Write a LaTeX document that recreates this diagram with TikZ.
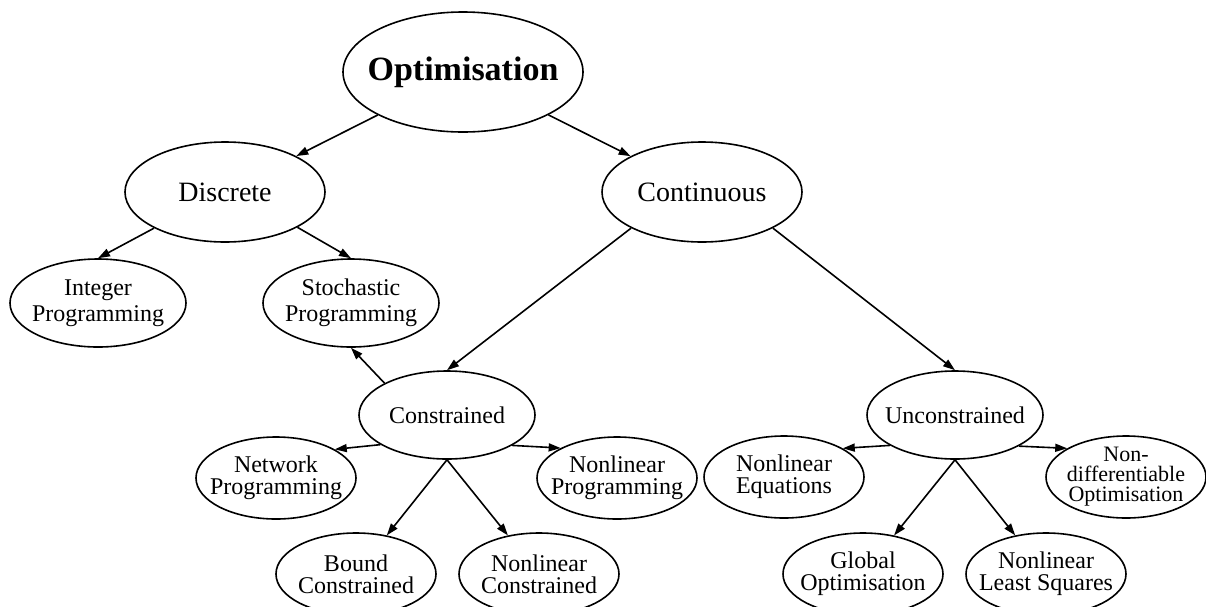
\documentclass[tikz,border=0pt]{standalone}
\usepackage{fontspec}
\setmainfont{Liberation Serif}
\usetikzlibrary{shapes.geometric, arrows.meta}

\begin{document}
\begin{tikzpicture}[
    x=0.5pt, y=-0.5pt,
    topic/.style={ellipse, draw=black, thick, inner sep=-20pt, align=center, font=\fontsize{12}{13}\selectfont},
    root/.style={topic, minimum width=120pt, minimum height=60pt, font=\fontsize{17}{20}\selectfont\bfseries},
    branch/.style={topic, minimum width=100pt, minimum height=50pt, font=\fontsize{14}{16}\selectfont},
    method/.style={topic, minimum width=88pt, minimum height=44pt},
    leaf/.style={topic, minimum width=80pt, minimum height=41pt, font=\fontsize{12}{11.2}\selectfont},
    arrow/.style={-{Triangle[length=6pt,width=4pt]}, thick}
]
\useasboundingbox (0,0) rectangle (1206,606);
\node (opt) [root] at (463,72) {Optimisation};
\node (disc) [branch] at (225,192) {Discrete};
\node (cont) [branch] at (702,192) {Continuous};
\node (integ) [method] at (98,303) {Integer\\Programming};
\node (stoch) [method] at (351,303) {Stochastic\\Programming};
\node (constr) [method] at (447,415) {Constrained};
\node (unc) [method] at (955,415) {Unconstrained};
\node (netw) [leaf] at (276,478) {Network\\Programming};
\node (nlp) [leaf] at (617,478) {Nonlinear\\Programming};
\node (nleq) [leaf] at (784,477) {Nonlinear\\Equations};
\node (nondiff) [leaf, font=\fontsize{11}{10}\selectfont] at (1126,477) {Non-\\differentiable\\Optimisation};
\node (bound) [leaf] at (356,574) {Bound\\Constrained};
\node (nlc) [leaf] at (539,574) {Nonlinear\\Constrained};
\node (glob) [leaf] at (863,574) {Global\\Optimisation};
\node (nlls) [leaf] at (1046,574) {Nonlinear\\Least Squares};
\draw [arrow] (opt) -- (disc);
\draw [arrow] (opt) -- (cont);
\draw [arrow] (disc.207) -- (integ.north);
\draw [arrow] (disc.-26) -- (stoch.north);
\draw [arrow] (cont.207) -- (constr.north);
\draw [arrow] (cont.-27) -- (unc.north);
\draw [arrow] (constr.153) -- (stoch.south);
\draw [arrow] (constr.204) -- (netw.26);
\draw [arrow] (constr.335) -- (nlp.152);
\draw [arrow] (constr.south) -- (bound);
\draw [arrow] (constr.south) -- (nlc);
\draw [arrow] (unc.205) -- (nleq.26);
\draw [arrow] (unc.334) -- (nondiff.154);
\draw [arrow] (unc.south) -- (glob);
\draw [arrow] (unc.south) -- (nlls);
\end{tikzpicture}
\end{document}
